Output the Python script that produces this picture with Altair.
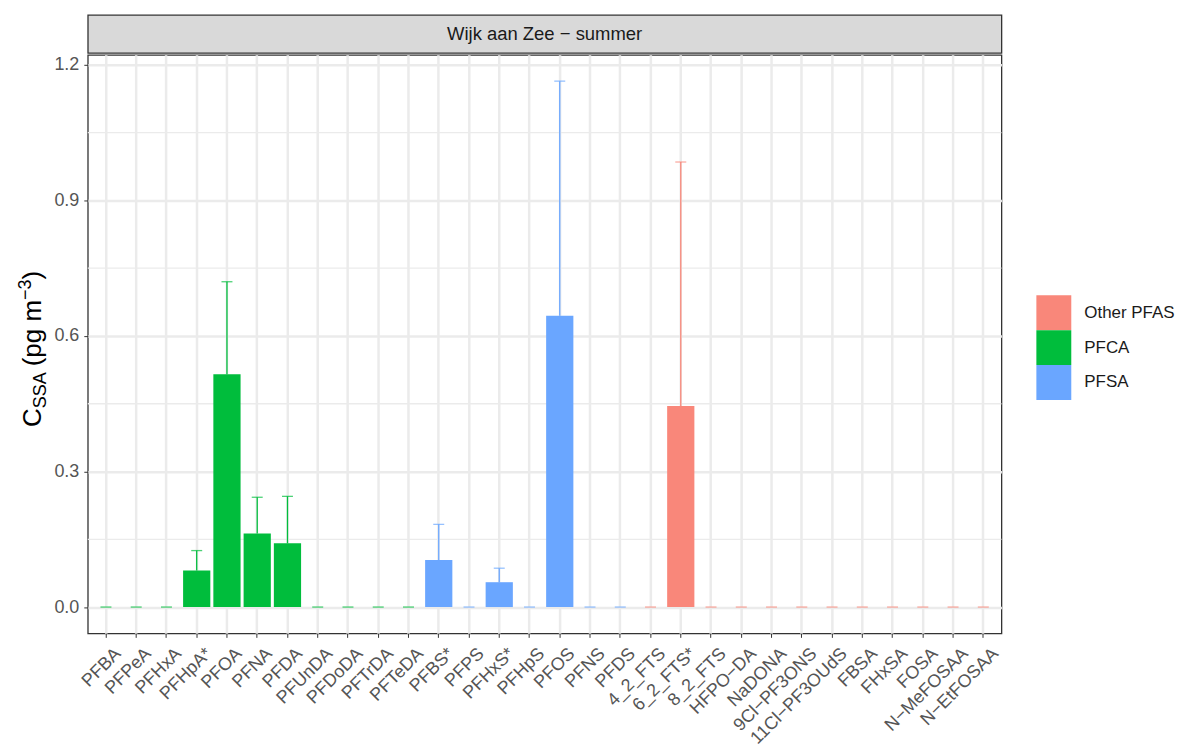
import altair as alt
import pandas as pd

compounds = ["PFBA", "PFPeA", "PFHxA", "PFHpA*", "PFOA", "PFNA", "PFDA", "PFUnDA",
             "PFDoDA", "PFTrDA", "PFTeDA", "PFBS*", "PFPS", "PFHxS*", "PFHpS", "PFOS",
             "PFNS", "PFDS", "4_2_FTS", "6_2_FTS*", "8_2_FTS", "HFPO−DA", "NaDONA",
             "9Cl−PF3ONS", "11Cl−PF3OUdS", "FBSA", "FHxSA", "FOSA", "N−MeFOSAA", "N−EtFOSAA"]
groups = (["PFCA"] * 11) + (["PFSA"] * 7) + (["Other PFAS"] * 12)
means = [0, 0, 0, 0.081, 0.515, 0.163, 0.141, 0, 0, 0, 0,
         0.104, 0, 0.055, 0, 0.645, 0, 0,
         0, 0.445, 0, 0, 0, 0, 0, 0, 0, 0, 0, 0]
uppers = [0, 0, 0, 0.125, 0.720, 0.243, 0.245, 0, 0, 0, 0,
          0.183, 0, 0.086, 0, 1.164, 0, 0,
          0, 0.985, 0, 0, 0, 0, 0, 0, 0, 0, 0, 0]
group_order = ["Other PFAS", "PFCA", "PFSA"]
group_colors = ["#F9877A", "#00BD3C", "#6AA6FF"]
y_ticks = [0.0, 0.3, 0.6, 0.9, 1.2]
y_minor = [0.15, 0.45, 0.75, 1.05]
strip_label = "Wijk aan Zee − summer"

df = pd.DataFrame({"compound": compounds, "group": groups, "mean": means, "upper": uppers})

FONT = "Liberation Sans"
W, H = 916, 580
yscale = alt.Scale(domain=[-0.0582, 1.2222], nice=False, zero=False)
xscale = alt.Scale(paddingInner=0.1, paddingOuter=0.15)
color = alt.Color("group:N", scale=alt.Scale(domain=group_order, range=group_colors),
                  legend=alt.Legend(title=None, orient="none", legendX=951, legendY=281,
                                    symbolType="square", symbolSize=1225, symbolStrokeWidth=0,
                                    symbolOpacity=1, rowPadding=0, labelOffset=13,
                                    labelFontSize=17, labelFont=FONT, labelColor="#1a1a1a",
                                    padding=0))

xaxis = alt.Axis(title=None, labelAngle=-45, labelAlign="right", labelBaseline="top",
                 labelFontSize=18, labelFont=FONT, labelColor="#555555", labelPadding=7,
                 labelOffset=6,
                 tickSize=4, tickColor="#333333", grid=True, gridColor="#ebebeb",
                 gridWidth=2.5, domain=False, labelOverlap=False)
yaxis = alt.Axis(title=None, values=y_ticks, format=".1f", labelFontSize=18, labelFont=FONT,
                 labelColor="#555555", labelPadding=5, tickSize=4, tickColor="#333333",
                 grid=True, gridColor="#ebebeb", gridWidth=2.5, domain=False)

base = alt.Chart(df)

minor = alt.Chart(pd.DataFrame({"v": y_minor})).mark_rule(
    color="#ebebeb", strokeWidth=1.3).encode(y=alt.Y("v:Q", scale=yscale, axis=yaxis))

bars = base.mark_bar().encode(
    x=alt.X("compound:N", sort=compounds, scale=xscale, axis=xaxis),
    y=alt.Y("mean:Q", scale=yscale, axis=yaxis),
    color=color,
)
err = base.mark_rule(strokeWidth=1.3).encode(
    x=alt.X("compound:N", sort=compounds),
    y=alt.Y("mean:Q"), y2="upper:Q",
    color=alt.Color("group:N", legend=None),
)
caps = base.mark_tick(size=11, thickness=1.3).encode(
    x=alt.X("compound:N", sort=compounds),
    y=alt.Y("upper:Q"),
    color=alt.Color("group:N", legend=None),
)

# y-axis title built from pieces (subscript / superscript)
TX, TY = -47, 373
def title_piece(txt, size, dx, dy):
    return alt.Chart(pd.DataFrame({"t": [txt]})).mark_text(
        angle=270, align="left", baseline="alphabetic", font=FONT, fontSize=size,
        color="#000000", dx=dx, dy=dy).encode(
        text="t:N", x=alt.value(TX), y=alt.value(TY))

tsize, ssize = 26, 18
t1 = title_piece("C", tsize, 0, 0)
t2 = title_piece("SSA", ssize, 0.722 * tsize, 5)
x3 = 0.722 * tsize + 2.0 * ssize + 6
t3 = title_piece("(pg m", tsize, x3, 0)
x4 = x3 + 2.556 * tsize
t4 = title_piece("−3", ssize, x4, -10)
x5 = x4 + 1.14 * ssize
t5 = title_piece(")", tsize, x5, 0)

main = alt.layer(minor, bars, err, caps, t1, t2, t3, t4, t5).properties(
    width=W, height=H,
    view=alt.ViewBackground(stroke="#333333", strokeWidth=1.3, fill="white"),
)

strip = alt.Chart(pd.DataFrame({"t": [strip_label]})).mark_text(
    font=FONT, fontSize=18.5, color="#1a1a1a", baseline="middle", align="center").encode(
    text="t:N", x=alt.value(W / 2), y=alt.value(19)).properties(
    width=W, height=38,
    view=alt.ViewBackground(fill="#d9d9d9", stroke="#333333", strokeWidth=1.3),
)

chart = alt.vconcat(strip, main, spacing=0).properties(
    padding={"left": 8, "top": 5, "right": 5, "bottom": 5}
).configure(background="white")

chart.save("out.html", embed_options={"renderer": "svg", "actions": False})
